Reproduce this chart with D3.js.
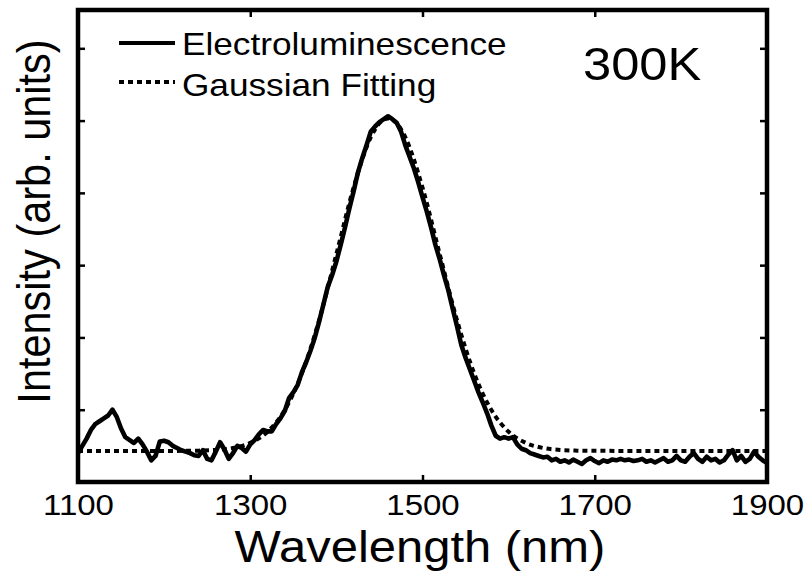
<!DOCTYPE html>
<html>
<head>
<meta charset="utf-8">
<script src="https://cdn.jsdelivr.net/npm/d3@7"></script>
<style>
html,body{margin:0;padding:0;background:#fff;}
svg{display:block;}
text{font-family:"Liberation Sans",Arial,sans-serif;fill:#000;}
</style>
</head>
<body>
<svg id="chart" width="810" height="576"></svg>
<script>
// ---------- data ----------
const wavelengthStart = 1100, wavelengthStep = 5;
const elValues = [
0.40,0.50,0.60,0.72,0.80,0.84,0.88,0.92,1.00,0.90,
0.74,0.62,0.58,0.54,0.60,0.52,0.42,0.30,0.36,0.56,
0.57,0.55,0.50,0.47,0.44,0.42,0.40,0.37,0.36,0.44,
0.32,0.30,0.42,0.55,0.45,0.32,0.40,0.50,0.47,0.42,
0.52,0.58,0.66,0.72,0.70,0.70,0.80,0.88,0.98,1.16,
1.24,1.34,1.52,1.66,1.82,2.00,2.22,2.46,2.70,2.86,
3.05,3.28,3.52,3.78,4.02,4.28,4.48,4.66,4.85,4.92,
4.98,5.02,5.06,5.02,4.97,4.85,4.66,4.50,4.34,4.15,
3.94,3.74,3.52,3.28,3.08,2.86,2.65,2.40,2.16,1.90,
1.72,1.56,1.40,1.24,1.10,0.95,0.78,0.64,0.60,0.62,
0.60,0.62,0.52,0.46,0.44,0.40,0.38,0.36,0.34,0.35,
0.30,0.32,0.28,0.30,0.27,0.31,0.28,0.25,0.30,0.33,
0.29,0.26,0.30,0.28,0.31,0.30,0.32,0.30,0.31,0.29,
0.30,0.32,0.28,0.30,0.27,0.30,0.33,0.28,0.30,0.36,
0.30,0.28,0.35,0.40,0.32,0.28,0.35,0.30,0.32,0.27,
0.30,0.38,0.44,0.30,0.36,0.28,0.32,0.42,0.35,0.30,
0.26
];
const fitWavelengths = [1100,1200,1220,1240,1260,1280,1300,1320,1340,1360,1380,1400,1420,1440,1450,1460,1470,1480,1500,1520,1540,1560,1580,1600,1620,1640,1660,1680,1700,1800,1900];
const fitValues      = [0.43,0.43,0.431,0.434,0.444,0.471,0.541,0.695,0.995,1.503,2.241,3.153,4.074,4.770,4.963,5.03,4.963,4.770,4.074,3.153,2.241,1.503,0.995,0.695,0.541,0.471,0.444,0.434,0.431,0.43,0.43];
const xTicks = [1100,1300,1500,1700,1900];
const yTicks = [0,1,2,3,4,5,6];
const legendLabels = ["Electroluminescence","Gaussian Fitting"];
const annotation = "300K";
const xTitle = "Wavelength (nm)";
const yTitle = "Intensity (arb. units)";

const elData = elValues.map((v,i)=>({x: wavelengthStart + i*wavelengthStep, y: v}));
const fitData = fitWavelengths.map((w,i)=>({x: w, y: fitValues[i]}));

// ---------- layout ----------
const L = 78, R = 767, T = 10, B = 482;
const SX = 1.1; // horizontal stretch of text in reference
const svg = d3.select("#chart");
const x = d3.scaleLinear().domain([1100,1900]).range([L,R]);
const y = d3.scaleLinear().domain([0,6.53]).range([B,T]);

const plot = svg.append("g");
plot.append("clipPath").attr("id","clip").append("rect")
  .attr("x",L).attr("y",T).attr("width",R-L).attr("height",B-T);

const line = d3.line().x(d=>x(d.x)).y(d=>y(d.y));
const curveG = plot.append("g").attr("clip-path","url(#clip)");
curveG.append("path").datum(elData).attr("d",line)
  .attr("fill","none").attr("stroke","#000").attr("stroke-width",4.6)
  .attr("stroke-linejoin","round");
curveG.append("path").datum(fitData).attr("d",line.curve(d3.curveMonotoneX))
  .attr("fill","none").attr("stroke","#000").attr("stroke-width",4)
  .attr("stroke-dasharray","5,4");

// axes
function styleAxis(g){
  g.select(".domain").remove();
  g.selectAll(".tick line").attr("stroke","#000").attr("stroke-width",2.5);
}
svg.append("g").attr("transform",`translate(0,${B})`)
  .call(d3.axisBottom(x).tickValues(xTicks).tickSizeInner(-7).tickSizeOuter(0).tickPadding(12).tickFormat(d3.format("d")))
  .call(styleAxis)
  .call(g=>g.selectAll(".tick text")
      .attr("font-size",30).attr("font-family",'"Liberation Sans",Arial,sans-serif')
      .attr("fill","#000").attr("transform",`scale(${SX},1)`));
svg.append("g").attr("transform",`translate(0,${T})`)
  .call(d3.axisTop(x).tickValues(xTicks).tickSizeInner(-7).tickSizeOuter(0).tickFormat(""))
  .call(styleAxis);
svg.append("g").attr("transform",`translate(${L},0)`)
  .call(d3.axisLeft(y).tickValues(yTicks).tickSizeInner(-7).tickSizeOuter(0).tickFormat(""))
  .call(styleAxis);
svg.append("g").attr("transform",`translate(${R},0)`)
  .call(d3.axisRight(y).tickValues(yTicks).tickSizeInner(-7).tickSizeOuter(0).tickFormat(""))
  .call(styleAxis);

// frame
svg.append("rect").attr("x",L).attr("y",T).attr("width",R-L).attr("height",B-T)
  .attr("fill","none").attr("stroke","#000").attr("stroke-width",4.5);

// text helper
function txt(tx,ty,s,size,anchor,rot){
  return svg.append("text")
    .attr("transform",`translate(${tx},${ty}) scale(${SX},1)` + (rot?` rotate(${rot})`:""))
    .attr("font-size",size).attr("text-anchor",anchor||"start").text(s);
}

// titles
txt(420,562,xTitle,44.5,"middle");
txt(50,221.5,yTitle,41.5,"middle",-90);
txt(583,80,annotation,46,"start");

// legend
const lg = svg.append("g");
lg.append("line").attr("x1",119).attr("x2",175).attr("y1",43).attr("y2",43)
  .attr("stroke","#000").attr("stroke-width",4);
lg.append("line").attr("x1",119).attr("x2",175).attr("y1",82).attr("y2",82)
  .attr("stroke","#000").attr("stroke-width",4).attr("stroke-dasharray","5,4");
txt(182,55,legendLabels[0],32,"start");
txt(182,96,legendLabels[1],32,"start");
</script>
</body>
</html>
